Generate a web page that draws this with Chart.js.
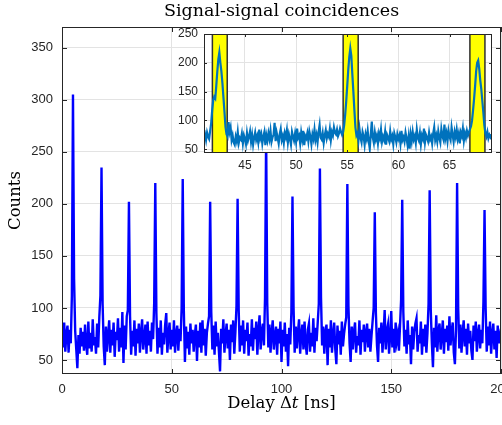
<!DOCTYPE html>
<html><head><meta charset="utf-8">
<script src="https://cdn.jsdelivr.net/npm/chart.js@4.4.1/dist/chart.umd.min.js"></script>
<style>
html,body{margin:0;padding:0;background:#fff;}
#wrap{position:relative;width:502px;height:425px;overflow:hidden;background:#fff;}
#main{position:absolute;left:0;top:0;}
#inset{position:absolute;left:170px;top:28px;}
</style></head><body>
<div id="wrap"><canvas id="main" width="502" height="425"></canvas><canvas id="inset" width="332" height="147"></canvas></div>
<script>
// ---- data ----
const titleText = 'Signal-signal coincidences';
const xLabelParts = [['Delay ', 'normal'], ['\u0394', 'normal'], ['t', 'italic'], [' [ns]', 'normal']];
const yLabelText = 'Counts';

// main trace: delay samples every 0.5 ns starting at 0 ns
const mainStart = 0, mainStep = 0.5;
const mainCounts = [
 80,62,86,58,75,83,57,79,66,112,305,128,78,60,42,74,56,81,63,77,
 59,84,65,55,87,61,76,58,89,64,72,56,85,62,91,112,235,104,63,45,
 82,58,74,88,57,79,64,86,53,77,69,90,58,81,62,96,47,83,60,92,
 98,202,92,55,78,63,88,54,80,66,85,57,76,89,60,71,84,56,87,64,
 78,58,86,70,105,220,95,56,81,62,88,55,76,65,84,95,57,74,86,60,
 79,63,88,57,75,83,59,80,68,100,224,98,48,82,61,77,55,85,66,79,
 58,74,84,49,78,62,86,57,88,64,80,54,76,85,92,202,96,60,83,55,
 87,63,76,58,39,80,66,89,57,74,85,61,79,50,84,67,88,56,77,102,
 205,98,58,83,64,88,56,79,68,86,54,75,63,89,59,81,70,87,55,78,
 93,60,77,85,64,110,268,105,62,84,57,76,88,60,73,82,55,80,66,87,
 48,79,63,86,58,75,44,81,65,96,207,100,57,82,61,77,89,56,74,84,
 60,87,66,55,79,85,58,76,63,90,57,81,68,86,104,234,110,64,82,56,
 77,84,45,80,62,88,57,74,86,60,46,83,65,78,55,87,63,75,84,91,
 219,102,66,48,82,60,77,86,57,73,64,88,55,79,67,84,58,76,85,62,
 80,58,73,87,100,192,95,64,48,81,66,86,57,75,98,60,78,84,56,73,
 97,62,80,57,86,68,75,59,83,108,204,96,63,79,56,88,65,74,46,82,
 60,77,85,90,58,74,66,87,55,80,63,84,57,76,104,213,98,66,43,81,
 62,93,58,78,85,60,74,88,56,80,67,83,59,92,64,77,86,57,46,79,
 220,100,61,84,57,76,88,63,80,55,85,66,78,59,50,83,68,87,58,75,
 84,61,79,66,106,194,100,58,82,64,87,56,75,85,60,78,52,83,66,74,
 80
];

// inset trace: delay samples every 0.1 ns starting at 41.0 ns
const insetStart = 41.0, insetStep = 0.1;
const insetCounts = [
 70,76,66,79,72,68,82,95,118,135,
 141,138,160,185,206,218,200,185,165,140,
 115,89,76,72,97,80,88,66,74,62,
 58,72,64,80,61,70,67,77,60,74,
 68,59,78,65,72,81,63,75,58,70,
 79,66,73,62,84,69,76,60,72,80,
 57,74,65,78,68,82,63,71,75,96,
 64,79,70,60,76,85,66,73,61,78,
 71,83,62,76,68,58,80,72,65,77,
 63,86,70,74,60,79,67,82,57,73,
 69,78,64,81,72,59,76,68,84,66,
 75,62,80,92,70,67,78,61,74,83,
 69,77,72,85,66,80,74,88,79,76,
 84,73,78,86,80,75,80,92,110,133,
 160,188,210,225,212,180,150,118,88,74,
 78,66,85,70,62,80,73,58,76,68,
 82,64,51,75,98,70,61,79,67,74,
 60,77,69,84,63,72,66,80,58,75,
 70,64,81,67,73,59,78,71,62,76,
 68,74,60,82,66,71,63,79,69,57,
 72,51,76,64,80,67,73,61,84,70,
 65,78,59,74,68,86,62,75,70,64,
 79,67,72,60,77,88,66,74,63,81,
 70,62,85,73,67,93,69,78,64,82,
 72,66,88,75,63,80,71,84,68,77,
 60,79,73,86,65,78,70,82,74,80,
 85,90,100,118,138,160,185,200,204,190,
 170,155,135,115,92,78,72,80,69,75,
 71,76
];

// highlighted windows in the inset [start, end] in ns
const bandEdges = [[41.82, 43.27], [54.60, 56.07], [66.99, 68.46]];

const mainXTicks = [0, 50, 100, 150, 200];
const mainYTicks = [50, 100, 150, 200, 250, 300, 350];
const insetXTicks = [45, 50, 55, 60, 65];
const insetYTicks = [50, 100, 150, 200, 250];

// ---- helpers ----
const toPoints = (start, step, arr) => arr.map((v, i) => ({x: +(start + i * step).toFixed(3), y: v}));
const axisInk = '#262626';
const gridInk = '#e3e3e3';
const serif = '"DejaVu Serif", serif';
const sans = '"Liberation Sans", Arial, sans-serif';

function boxAndTicks(chart, ticksX, ticksY, len) {
  const {ctx, chartArea: a, scales: {x, y}} = chart;
  ctx.save();
  ctx.strokeStyle = axisInk; ctx.lineWidth = 1;
  ctx.strokeRect(Math.round(a.left) + 0.5, Math.round(a.top) + 0.5,
    Math.round(a.right - a.left) - 1, Math.round(a.bottom - a.top) - 1);
  ctx.beginPath();
  ticksX.forEach(v => {
    const px = Math.round(x.getPixelForValue(v)) + 0.5;
    ctx.moveTo(px, a.bottom); ctx.lineTo(px, a.bottom - len);
    ctx.moveTo(px, a.top); ctx.lineTo(px, a.top + len);
  });
  ticksY.forEach(v => {
    const py = Math.round(y.getPixelForValue(v)) + 0.5;
    ctx.moveTo(a.left, py); ctx.lineTo(a.left + len, py);
    ctx.moveTo(a.right, py); ctx.lineTo(a.right - len, py);
  });
  ctx.stroke();
  ctx.restore();
}

const mainDecor = {
  id: 'mainDecor',
  afterDraw(chart) {
    boxAndTicks(chart, mainXTicks, mainYTicks, 5);
    const {ctx, chartArea: a} = chart;
    ctx.save();
    ctx.fillStyle = '#000';
    ctx.textBaseline = 'alphabetic';
    ctx.textAlign = 'center';
    ctx.font = '17.5px ' + serif;
    ctx.fillText(titleText, (a.left + a.right) / 2, 16);
    // x label with italic t
    ctx.textAlign = 'left';
    const size = 16.5;
    const fonts = xLabelParts.map(p => (p[1] === 'italic' ? 'italic ' : '') + size + 'px ' + serif);
    let total = 0;
    const widths = xLabelParts.map((p, i) => { ctx.font = fonts[i]; const w = ctx.measureText(p[0]).width; total += w; return w; });
    let cx = (a.left + a.right) / 2 - total / 2;
    xLabelParts.forEach((p, i) => { ctx.font = fonts[i]; ctx.fillText(p[0], cx, 408); cx += widths[i]; });
    // y label
    ctx.translate(20, (a.top + a.bottom) / 2);
    ctx.rotate(-Math.PI / 2);
    ctx.textAlign = 'center';
    ctx.font = size + 'px ' + serif;
    ctx.fillText(yLabelText, 0, 0);
    ctx.restore();
  }
};

const insetDecor = {
  id: 'insetDecor',
  beforeDraw(chart) {
    const {ctx, chartArea: a} = chart;
    ctx.save(); ctx.fillStyle = '#fff';
    ctx.fillRect(a.left, a.top, a.right - a.left, a.bottom - a.top);
    ctx.restore();
  },
  beforeDatasetsDraw(chart) {
    const {ctx, chartArea: a, scales: {x}} = chart;
    ctx.save();
    bandEdges.forEach(([s, e]) => {
      const l = x.getPixelForValue(s), r = x.getPixelForValue(e);
      ctx.fillStyle = '#ffff00';
      ctx.fillRect(l, a.top, r - l, a.bottom - a.top);
      ctx.strokeStyle = '#303030'; ctx.lineWidth = 1.5;
      ctx.beginPath();
      ctx.moveTo(l, a.top); ctx.lineTo(l, a.bottom);
      ctx.moveTo(r, a.top); ctx.lineTo(r, a.bottom);
      ctx.stroke();
    });
    ctx.restore();
  },
  afterDraw(chart) { boxAndTicks(chart, insetXTicks, insetYTicks, 3); }
};

function fixedAxis(ticksArr, extra) {
  return Object.assign({
    type: 'linear',
    afterBuildTicks: s => { s.ticks = ticksArr.map(v => ({value: v})); },
    grid: {color: gridInk, lineWidth: 1, drawTicks: false},
    border: {display: false},
  }, extra);
}

new Chart(document.getElementById('main'), {
  type: 'line',
  data: {datasets: [{data: toPoints(mainStart, mainStep, mainCounts), borderColor: '#0000ff', borderWidth: 2.4, pointRadius: 0, tension: 0}]},
  options: {
    responsive: false, animation: false, devicePixelRatio: 1,
    layout: {padding: {left: 0, right: 1, top: 27, bottom: 0}},
    plugins: {legend: {display: false}, tooltip: {enabled: false}, title: {display: false}},
    scales: {
      x: fixedAxis(mainXTicks, {
        min: 0, max: 200,
        afterFit: s => { s.height = 51; s.paddingLeft = 0; s.paddingRight = 0; },
        ticks: {padding: 8, autoSkip: false, maxRotation: 0, color: axisInk, font: {family: sans, size: 13}}
      }),
      y: fixedAxis(mainYTicks, {
        min: 36.5, max: 370,
        afterFit: s => { s.width = 62; s.paddingTop = 0; s.paddingBottom = 0; },
        ticks: {padding: 9, autoSkip: false, color: axisInk, font: {family: sans, size: 13}}
      })
    }
  },
  plugins: [mainDecor]
});

new Chart(document.getElementById('inset'), {
  type: 'line',
  data: {datasets: [{data: toPoints(insetStart, insetStep, insetCounts), borderColor: '#0072bd', borderWidth: 2.2, pointRadius: 0, tension: 0}]},
  options: {
    responsive: false, animation: false, devicePixelRatio: 1,
    layout: {padding: {left: 0, right: 10, top: 6, bottom: 0}},
    plugins: {legend: {display: false}, tooltip: {enabled: false}, title: {display: false}},
    scales: {
      x: fixedAxis(insetXTicks, {
        min: 41, max: 69.15,
        afterFit: s => { s.height = 22; s.paddingLeft = 0; s.paddingRight = 0; },
        ticks: {padding: 5, autoSkip: false, maxRotation: 0, color: axisInk, font: {family: sans, size: 12}}
      }),
      y: fixedAxis(insetYTicks, {
        min: 43.5, max: 250,
        afterFit: s => { s.width = 34; s.paddingTop = 0; s.paddingBottom = 0; },
        ticks: {padding: 6, autoSkip: false, color: axisInk, font: {family: sans, size: 12}}
      })
    }
  },
  plugins: [insetDecor]
});
</script>
</body></html>
